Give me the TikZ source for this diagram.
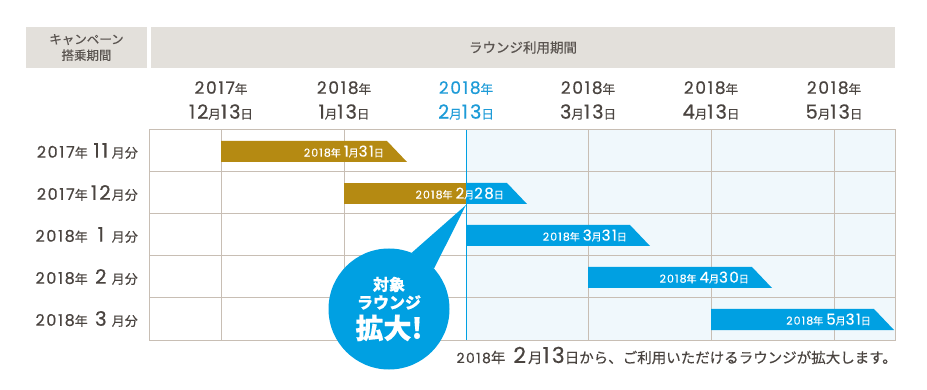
\documentclass[tikz,border=0pt]{standalone}
\usepackage{fontspec}
\setmainfont{Noto Sans CJK JP}[FakeBold=0.4]
\newfontfamily\numfont{Poppins}[LetterSpace=10, FakeBold=0.5]

\usetikzlibrary{positioning}

\definecolor{ink}{HTML}{4A4440}
\definecolor{hdrgray}{HTML}{E3E0DB}
\definecolor{hdrtext}{HTML}{5A5450}
\definecolor{gridline}{HTML}{C8BEB4}
\definecolor{paleblue}{HTML}{F0F8FC}
\definecolor{sky}{HTML}{00A0E2}
\definecolor{skytext}{HTML}{1E9BD7}
\definecolor{gold}{HTML}{B58A12}

\newcommand\dg[2]{{\numfont\fontsize{#1}{#1}\selectfont #2}}
\newcommand\kj[2]{{\fontsize{#1}{#1}\selectfont #2}}

\begin{document}
\begin{tikzpicture}[x=1pt, y=-1pt,
    hdr/.style={fill=hdrgray, text=hdrtext, inner sep=0, align=center, font=\fontsize{12.5}{16}\selectfont},
    grid/.style={draw=gridline, line width=1pt},
    rowlbl/.style={anchor=east, text=ink, inner sep=0},
    collbl/.style={text=ink, inner sep=0},
    barlbl/.style={anchor=east, text=white, inner sep=0},
    bubble/.style={circle, fill=sky, minimum size=121, inner sep=0, text=white, align=center, font=\bfseries\fontsize{16}{18}\selectfont},
]

% bounding box
\useasboundingbox (0,0) rectangle (927,390);

% Header
\node[hdr, minimum width=121, minimum height=41] (camp) at (86.5,47.5) {キャンペーン\\搭乗期間};
\node[hdr, minimum width=744, minimum height=41, font=\fontsize{13.5}{15}\selectfont] (lounge) at (523,47.5) {ラウンジ利用期間};

% Column dates
\foreach \x/\yy/\mm/\cc [count=\i] in {221/2017/12/ink, 344/2018/1/ink, 466/2018/2/skytext, 588/2018/3/ink, 711/2018/4/ink, 834/2018/5/ink} {
  \node[collbl, text=\cc] (y\i) at (\x,88) {\dg{17}{\yy}\kj{12.5}{年}};
  \node[collbl, text=\cc] (d\i) at (\x,112) {\dg{19.5}{\mm}\kj{12.5}{月}\dg{19.5}{13}\kj{12.5}{日}};
}

% Grid
\fill[paleblue] (466,130) rectangle (895,340);
\foreach \x in {221,344,588,711,834} \draw[grid] (\x,130) -- (\x,340);
\foreach \y in {172,214,256,298} \draw[grid] (149,\y) -- (895,\y);
\draw[grid] (149,130) rectangle (895,340);
\draw[sky, line width=1pt] (466,130) -- (466,340);

% Row labels
\node[rowlbl] (r1) at (138,151) {\dg{16}{2017}\kj{13}{年}\hspace{4pt}\makebox[18pt]{\dg{20}{11}}\hspace{2pt}\kj{13}{月分}};
\node[rowlbl] (r2) at (138,193) {\dg{16}{2017}\kj{13}{年}\hspace{4pt}\makebox[18pt]{\dg{20}{12}}\hspace{2pt}\kj{13}{月分}};
\node[rowlbl] (r3) at (138,235) {\dg{16}{2018}\kj{13}{年}\hspace{4pt}\makebox[18pt]{\dg{20}{1}}\hspace{2pt}\kj{13}{月分}};
\node[rowlbl] (r4) at (138,277) {\dg{16}{2018}\kj{13}{年}\hspace{4pt}\makebox[18pt]{\dg{20}{2}}\hspace{2pt}\kj{13}{月分}};
\node[rowlbl] (r5) at (138,319) {\dg{16}{2018}\kj{13}{年}\hspace{4pt}\makebox[18pt]{\dg{20}{3}}\hspace{2pt}\kj{13}{月分}};

% Bars
\fill[gold] (221,141) -- (387,141) -- ++(20,21) -- (221,162) -- cycle;
\fill[gold] (344,183) rectangle (466,204);
\fill[sky] (466,183) -- (507,183) -- ++(20,21) -- (466,204) -- cycle;
\fill[sky] (466,225) -- (630,225) -- ++(20,21) -- (466,246) -- cycle;
\fill[sky] (588,267) -- (752,267) -- ++(20,21) -- (588,288) -- cycle;
\fill[sky] (711,309) -- (874,309) -- ++(20,21) -- (711,330) -- cycle;

% Bar labels
\node[barlbl] (b1) at (384,151.5) {\dg{11}{2018}\kj{10}{年}\hspace{3pt}\dg{15}{1}\kj{10}{月}\dg{15}{31}\kj{10}{日}};
\node[barlbl] (b2) at (504,193.5) {\dg{11}{2018}\kj{10}{年}\hspace{3pt}\dg{15}{2}\kj{10}{月}\dg{15}{28}\kj{10}{日}};
\node[barlbl] (b3) at (627,235.5) {\dg{11}{2018}\kj{10}{年}\hspace{3pt}\dg{15}{3}\kj{10}{月}\dg{15}{31}\kj{10}{日}};
\node[barlbl] (b4) at (749,277.5) {\dg{11}{2018}\kj{10}{年}\hspace{3pt}\dg{15}{4}\kj{10}{月}\dg{15}{30}\kj{10}{日}};
\node[barlbl] (b5) at (871,319.5) {\dg{11}{2018}\kj{10}{年}\hspace{3pt}\dg{15}{5}\kj{10}{月}\dg{15}{31}\kj{10}{日}};

% Callout
\coordinate (tip) at (466,205);
\node[bubble] (bubble) at (389,309) {対象\\ラウンジ\\[4pt]{\fontsize{28}{28}\selectfont 拡大!}};
\fill[sky] (bubble.68) -- (tip) -- (bubble.42) -- cycle;

% Note
\node[anchor=base east, text=ink, inner sep=0] (note) at (897,363) {\dg{14}{2018}\kj{14.5}{年}\hspace{8pt}\dg{22}{2}\hspace{2pt}\kj{14.5}{月}\dg{22}{13}\kj{14.5}{日から、ご利用いただけるラウンジが拡大します。}};

\end{tikzpicture}
\end{document}
